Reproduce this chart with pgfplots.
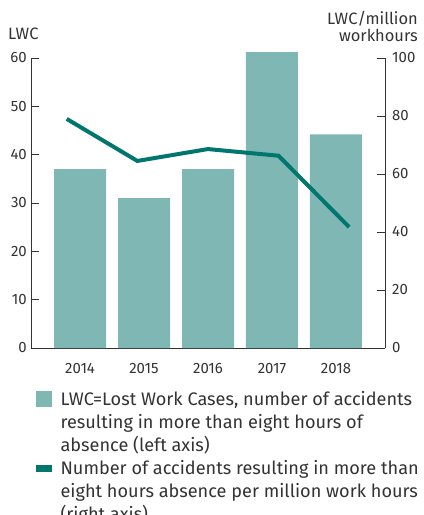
\documentclass[border=0pt]{standalone}
\usepackage{fontspec}
\setmainfont{Fira Sans}
\usepackage{pgfplots}
\pgfplotsset{compat=1.18}

\definecolor{barteal}{RGB}{127,183,180}
\definecolor{lineteal}{RGB}{0,118,110}
\definecolor{txt}{RGB}{51,51,51}

\newcommand{\ls}{\rule[-6bp]{0pt}{21.5bp}}   % one legend line
\newcommand{\lsl}{\rule[-9bp]{0pt}{24.5bp}} % last line of an entry

\pgfplotsset{
  common/.style={
    scale only axis, width=354bp, height=290bp,
    at={(0,0)}, anchor=south west,
    tick align=inside, major tick length=8bp,
    every tick/.style={txt, line width=1pt},
    axis line style={txt, line width=1pt},
    tick label style={font=\fontsize{15}{18}\selectfont, text=txt},
    /pgf/number format/assume math mode=true,
  },
}

\begin{document}
\begin{tikzpicture}
\useasboundingbox (-31bp,-167bp) rectangle (393bp,348bp);

% bars, left axis
\begin{axis}[common,
  axis y line*=left, axis x line*=bottom,
  xmin=-0.766, xmax=4.766, ymin=0, ymax=60,
  ytick={0,10,...,60},
  xtick={0,...,4}, xticklabels={2014,2015,2016,2017,2018},
  x tick style={draw=none},
  xticklabel style={anchor=north, inner sep=0pt, yshift=-7bp},
  yticklabel style={anchor=east, inner sep=0pt, xshift=-4bp},
  ybar, bar width=52bp, clip=false,
]
\addplot[fill=barteal, draw=none] coordinates {(0,37) (1,31) (2,37) (3,61.2) (4,44.2)};
\end{axis}

% line, right axis
\begin{axis}[common,
  axis y line*=right, axis x line=none,
  xmin=-0.506, xmax=4.508, ymin=0, ymax=100,
  ytick={0,20,...,100},
  yticklabel style={anchor=west, inner sep=0pt, xshift=7bp},
  legend style={at={(rel axis cs:0,0)}, anchor=north west, xshift=5bp, yshift=-41.5bp,
    draw=none, fill=none, inner sep=0pt, row sep=6bp, column sep=0pt,
    font=\fontsize{18.2}{21.5}\selectfont, text=txt,
    nodes={inner sep=0pt, anchor=base west}},
  legend cell align=left,
]
\addplot[lineteal, line width=4bp, forget plot] coordinates {(0,79) (1,64.5) (2,68.6) (3,66.3) (4,41.7)};

\addlegendimage{legend image code/.code={\fill[barteal] (0bp,-1bp) rectangle (15bp,14bp);}}
\addlegendentry{\hspace{9bp}\ls LWC=Lost Work Cases, number of accidents}
\addlegendimage{empty legend}
\addlegendentry{\hspace{9bp}\ls resulting in more than eight hours of}
\addlegendimage{empty legend}
\addlegendentry{\hspace{9bp}\lsl absence (left axis)}
\addlegendimage{legend image code/.code={\fill[lineteal] (0bp,3bp) rectangle (15bp,9bp);}}
\addlegendentry{\hspace{9bp}\ls Number of accidents resulting in more than}
\addlegendimage{empty legend}
\addlegendentry{\hspace{9bp}\ls eight hours absence per million work hours}
\addlegendimage{empty legend}
\addlegendentry{\hspace{9bp}\ls (right axis)}
\end{axis}

\node[anchor=base west, text=txt, inner sep=0pt, font=\fontsize{16.5}{20}\selectfont] at (-23bp,308bp) {LWC};
\node[anchor=base east, text=txt, inner sep=0pt, font=\fontsize{16.5}{20}\selectfont] at (387bp,323bp) {LWC/million};
\node[anchor=base east, text=txt, inner sep=0pt, font=\fontsize{16.5}{20}\selectfont] at (387bp,306bp) {workhours};
\end{tikzpicture}
\end{document}
